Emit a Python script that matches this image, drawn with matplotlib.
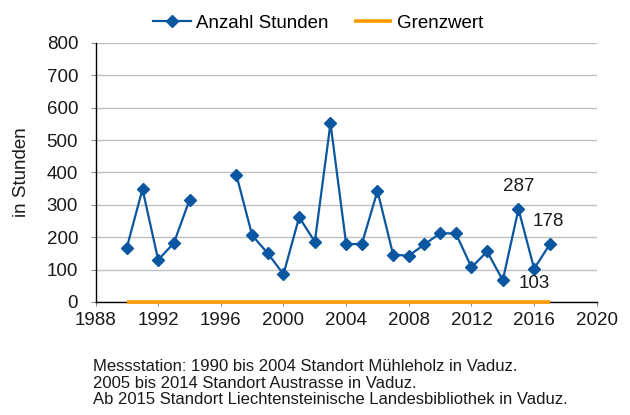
import numpy as np
import matplotlib
matplotlib.use("Agg")
import matplotlib.pyplot as plt

plt.rcParams['font.family'] = ['Liberation Sans', 'DejaVu Sans']

# Daten
jahre = [1990, 1991, 1992, 1993, 1994, 1995, 1996, 1997, 1998, 1999,
         2000, 2001, 2002, 2003, 2004, 2005, 2006, 2007, 2008, 2009,
         2010, 2011, 2012, 2013, 2014, 2015, 2016, 2017]
stunden = [168, 349, 130, 182, 315, np.nan, np.nan, 391, 206, 150,
           86, 262, 186, 552, 179, 179, 343, 146, 143, 178,
           212, 212, 107, 156, 67, 287, 103, 178]
grenzwert_jahre = [1990, 2017]
grenzwert = [0, 0]
beschriftet = {2015: (0, 16), 2017: (-1, 16.5), 2016: (0, -11)}
fussnote = ("Messstation: 1990 bis 2004 Standort Mühleholz in Vaduz.\n"
            "2005 bis 2014 Standort Austrasse in Vaduz.\n"
            "Ab 2015 Standort Liechtensteinische Landesbibliothek in Vaduz.")

blau = '#0A56A0'
orange = '#FF9A00'
fs = 13.5

fig = plt.figure(figsize=(6.3, 4.15), dpi=100)
ax = fig.add_axes([0.1516, 0.2723, 0.7957, 0.6241])

ax.plot(jahre, stunden, color=blau, lw=1.6, marker='D', ms=6.5,
        label='Anzahl Stunden', zorder=3)
ax.plot(grenzwert_jahre, grenzwert, color=orange, lw=2.6,
        label='Grenzwert', zorder=4, clip_on=False, solid_capstyle='butt')

for jahr, (dx, dy) in beschriftet.items():
    wert = stunden[jahre.index(jahr)]
    ax.annotate('{}'.format(wert), (jahr, wert), xytext=(dx, dy),
                textcoords='offset points', ha='center', va='center',
                fontsize=fs, color='#1a1a1a')

ax.set_xlim(1988, 2020)
ax.set_ylim(0, 800)
ax.set_xticks(range(1988, 2021, 4))
ax.set_yticks(range(0, 801, 100))
ax.yaxis.grid(True, color='#C0C0C0', lw=1)
ax.set_axisbelow(True)
for s in ['top', 'right']:
    ax.spines[s].set_visible(False)
for s in ['left', 'bottom']:
    ax.spines[s].set_color('black')
    ax.spines[s].set_linewidth(1)
ax.tick_params(axis='y', labelsize=fs, length=3.5, color='#8C8C8C',
               labelcolor='#1a1a1a', pad=9)
ax.tick_params(axis='x', labelsize=fs, length=3, color='#8C8C8C',
               labelcolor='#1a1a1a', pad=4.5)
ax.set_ylabel('in Stunden', fontsize=fs, color='#1a1a1a')
ax.yaxis.set_label_coords(-0.13, 0.5)

fig.legend(loc='center', bbox_to_anchor=(0.505, 0.944), ncol=2, frameon=False,
           fontsize=fs, handlelength=2.0, handletextpad=0.25,
           columnspacing=1.4, borderaxespad=0)

fig.text(0.148, 0.077, fussnote, fontsize=12, va='center', ha='left',
         linespacing=1.13, color='#1a1a1a')

fig.savefig('out.png', dpi=100)
